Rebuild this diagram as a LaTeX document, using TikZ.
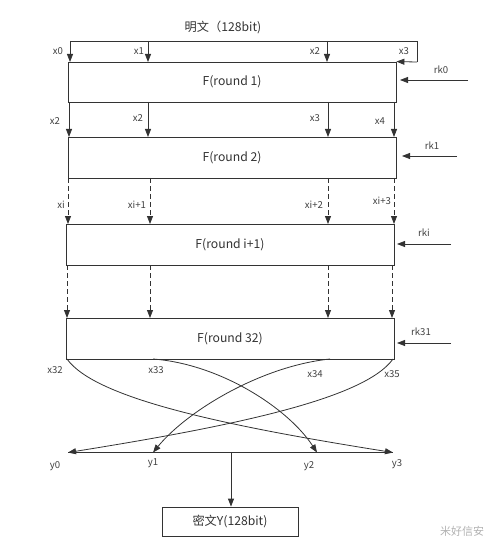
\documentclass[tikz,border=0pt]{standalone}
\usepackage{fontspec}
\setmainfont{Noto Sans CJK SC}
\usetikzlibrary{arrows.meta}
\begin{document}
\begin{tikzpicture}[x=1pt,y=-1pt,
  ln/.style={draw=black!80, line width=0.8pt},
  arr/.style={ln, -{Triangle[length=8pt,width=6pt]}},
  darr/.style={arr, dash pattern=on 5pt off 3pt},
  box/.style={ln, fill=white, minimum width=328pt, minimum height=41pt, inner sep=0pt, font=\fontsize{12.2}{14}\selectfont, text=black!80},
  lab/.style={font=\fontsize{9.6}{11}\selectfont, text=black!75, inner sep=0pt},
]
\useasboundingbox (0,0) rectangle (500,553);

% boxes
\node[box, minimum height=40pt] (b1) at (232,82) {F(round 1)};
\node[box] (b2) at (232,157.5) {F(round 2)};
\node[box] (b3) at (230,244.5) {F(round i+1)};
\node[box] (b4) at (230,338.5) {F(round 32)};
\node[box, minimum width=136pt, minimum height=29pt] (out) at (230,521.5) {密文Y(128bit)};

% title and top bracket
\node[font=\fontsize{12.2}{14}\selectfont, text=black!80, inner sep=0pt] (title) at (223,27) {明文（128bit)};
\coordinate (tl) at (70,41);
\coordinate (tr) at (417,41);
\coordinate (trd) at (417,62);
\draw[ln] (tl) -- (tr) -- (trd);
\draw[arr] (trd) -- (b1.north east);
\foreach \x [count=\i] in {70,148,327} {
  \coordinate (t\i) at (\x,41);
  \draw[arr] (t\i) -- (\x,62);
}
\node[lab] (lx0) at (58,51) {x0};
\node[lab] (lx1) at (139,51) {x1};
\node[lab] (lx2) at (315,51) {x2};
\node[lab] (lx3) at (404,51) {x3};

% box1 -> box2
\foreach \x in {69,148,328,394} {
  \draw[arr] (\x,102) -- (\x,137);
}
\node[lab] (m0) at (55,121) {x2};
\node[lab] (m1) at (138,118) {x2};
\node[lab] (m2) at (315,118) {x3};
\node[lab] (m3) at (380,121) {x4};

% box2 -> box3 (dashed)
\foreach \x in {68,150,328,394} {
  \draw[darr] (\x,178) -- (\x,224);
}
\node[lab] (n0) at (61,205) {xi};
\node[lab] (n1) at (137,205) {xi+1};
\node[lab] (n2) at (314,205) {xi+2};
\node[lab] (n3) at (382,201) {xi+3};

% box3 -> box4 (dashed)
\foreach \x in {67,150,328,392} {
  \draw[darr] (\x,265) -- (\x,318);
}

% round keys
\coordinate (k0) at (468,80);
\coordinate (k1) at (457,156);
\coordinate (k2) at (451,244);
\coordinate (k3) at (451,343);
\draw[arr] (k0) -- (400,80);
\draw[arr] (k1) -- (402,156);
\draw[arr] (k2) -- (397,244);
\draw[arr] (k3) -- (397,343);
\node[lab] (rk0) at (441,70) {rk0};
\node[lab] (rk1) at (432,146) {rk1};
\node[lab] (rki) at (424,233) {rki};
\node[lab] (rk31) at (421,332) {rk31};

% outputs of last round
\coordinate (o0) at (67,359);
\coordinate (o1) at (153,359);
\coordinate (o2) at (330,359);
\coordinate (o3) at (393,359);
\node[lab] (x32) at (55,370) {x32};
\node[lab] (x33) at (156,370) {x33};
\node[lab] (x34) at (315,374) {x34};
\node[lab] (x35) at (392,374) {x35};

% bottom line
\coordinate (y0) at (68,452.5);
\coordinate (y1) at (153,452.5);
\coordinate (y2) at (317,452.5);
\coordinate (y3) at (393,452.5);
\coordinate (ym) at (231,452.5);
\draw[ln] (y0) -- (y3);
\node[lab] (ly0) at (55,466) {y0};
\node[lab] (ly1) at (153,463) {y1};
\node[lab] (ly2) at (309,466) {y2};
\node[lab] (ly3) at (397,464) {y3};

% crossing curves
\draw[arr] (o0) .. controls (95,398) and (220,425) .. (y3);
\draw[arr] (o3) .. controls (365,398) and (240,425) .. (y0);
\draw[arr] (o1) .. controls (220,364) and (288,408) .. (y2);
\draw[arr] (o2) .. controls (262,366) and (188,410) .. (y1);

% to ciphertext
\draw[arr] (ym) -- (out.north -| ym);

% watermark
\node[font=\fontsize{11}{13}\selectfont, text=black!30, inner sep=0pt] (wm) at (462,531) {米好信安};
\end{tikzpicture}
\end{document}
